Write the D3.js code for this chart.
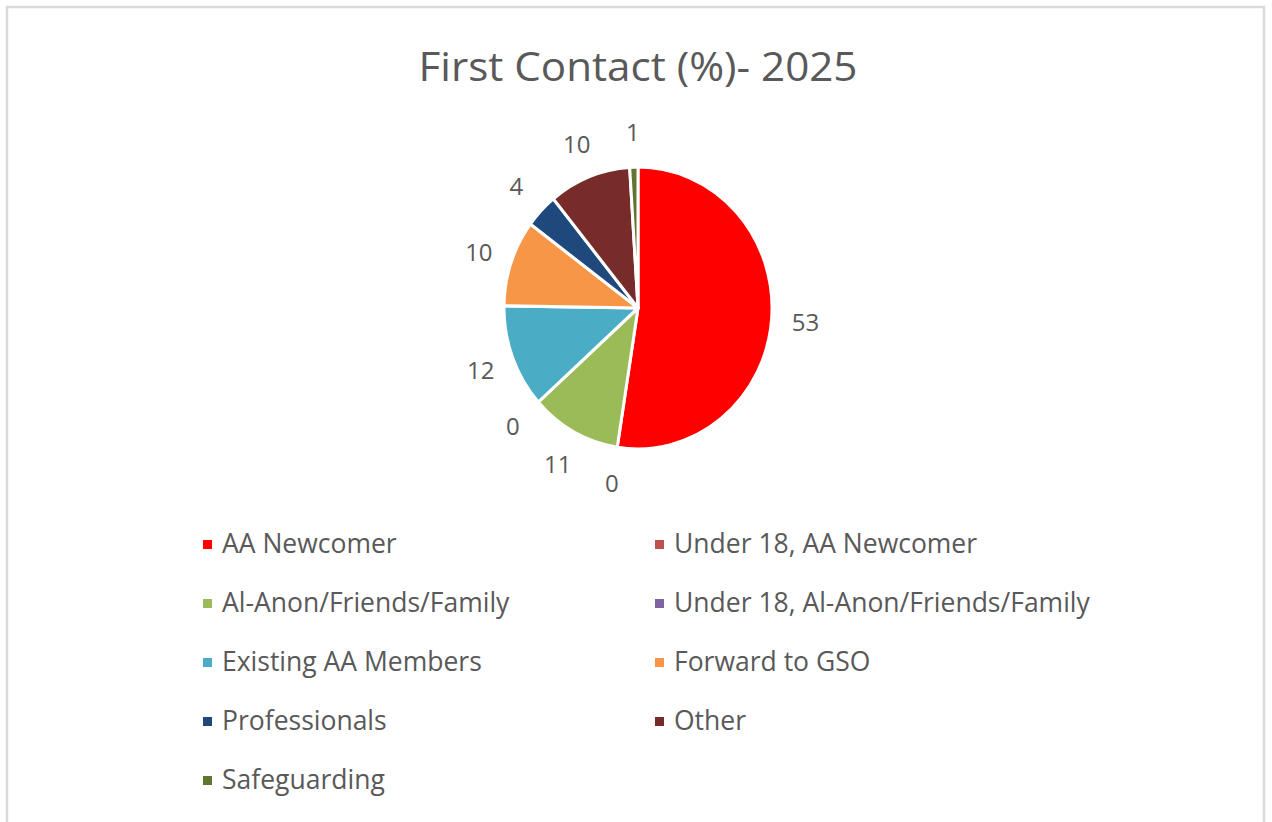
<!DOCTYPE html>
<html>
<head>
<meta charset="utf-8">
<script src="https://cdn.jsdelivr.net/npm/d3@7"></script>
<style>
  html, body { margin: 0; padding: 0; background: #fff; }
  svg { display: block; }
</style>
</head>
<body>
<svg id="chart" width="1272" height="822"></svg>
<script>
const categories = [
  "AA Newcomer",
  "Under 18, AA Newcomer",
  "Al-Anon/Friends/Family",
  "Under 18, Al-Anon/Friends/Family",
  "Existing AA Members",
  "Forward to GSO",
  "Professionals",
  "Other",
  "Safeguarding",
];
const values = [53, 0, 11, 0, 12, 10, 4, 10, 1];
const colors = [
  "#ff0000", "#c0504d", "#9bbb59", "#8064a2", "#4bacc6",
  "#f79646", "#1f497d", "#772c2a", "#5f7530",
];

const svg = d3.select("#chart");
const textColor = "#595959";

// outer frame
svg.append("rect")
  .attr("x", 7).attr("y", 7)
  .attr("width", 1257).attr("height", 830)
  .attr("fill", "#fff")
  .attr("stroke", "#dadada")
  .attr("stroke-width", 2.5);

// title
svg.append("text")
  .attr("x", 638).attr("y", 81)
  .attr("text-anchor", "middle")
  .attr("font-family", "Open Sans, sans-serif")
  .attr("font-size", 40)
  .attr("textLength", 439)
  .attr("lengthAdjust", "spacingAndGlyphs")
  .attr("fill", textColor)
  .text("First Contact (%)- 2025");

const cx = 638, cy = 308;
const radius = 134;
const yScale = 1.052;

const data = categories.map((c, i) => ({ name: c, value: values[i], color: colors[i] }));
const pie = d3.pie().sort(null).value((d) => d.value);
const arcs = pie(data);
const arc = d3.arc().innerRadius(0).outerRadius(radius);

const g = svg.append("g")
  .attr("transform", `translate(${cx},${cy}) scale(1,${yScale})`);

g.selectAll("path")
  .data(arcs.filter((d) => d.value > 0))
  .join("path")
  .attr("d", arc)
  .attr("fill", (d) => d.data.color)
  .attr("stroke", "#fff")
  .attr("stroke-width", 3)
  .attr("stroke-linejoin", "round");

// data labels outside the pie
const labelR = 168;
svg.append("g")
  .selectAll("text")
  .data(arcs)
  .join("text")
  .attr("x", (d) => {
    const a = (d.startAngle + d.endAngle) / 2;
    return cx + labelR * Math.sin(a);
  })
  .attr("y", (d) => {
    const a = (d.startAngle + d.endAngle) / 2;
    return cy - labelR * Math.cos(a) * yScale;
  })
  .attr("text-anchor", "middle")
  .attr("dominant-baseline", "central")
  .attr("font-family", "Open Sans, sans-serif")
  .attr("font-size", 24)
  .attr("fill", textColor)
  .text((d) => d.data.value);

// legend, two columns
const colX = [203, 655];
const rowY0 = 543, rowStep = 59;
const legend = svg.append("g")
  .selectAll("g")
  .data(data)
  .join("g")
  .attr("transform", (d, i) =>
    `translate(${colX[i % 2]},${rowY0 + Math.floor(i / 2) * rowStep})`);

legend.append("rect")
  .attr("x", 0).attr("y", -3)
  .attr("width", 9).attr("height", 9)
  .attr("fill", (d) => d.color);

legend.append("text")
  .attr("x", 19).attr("y", 0)
  .attr("dominant-baseline", "central")
  .attr("font-family", "Open Sans, sans-serif")
  .attr("font-size", 26.5)
  .attr("fill", textColor)
  .text((d) => d.name);
</script>
</body>
</html>
